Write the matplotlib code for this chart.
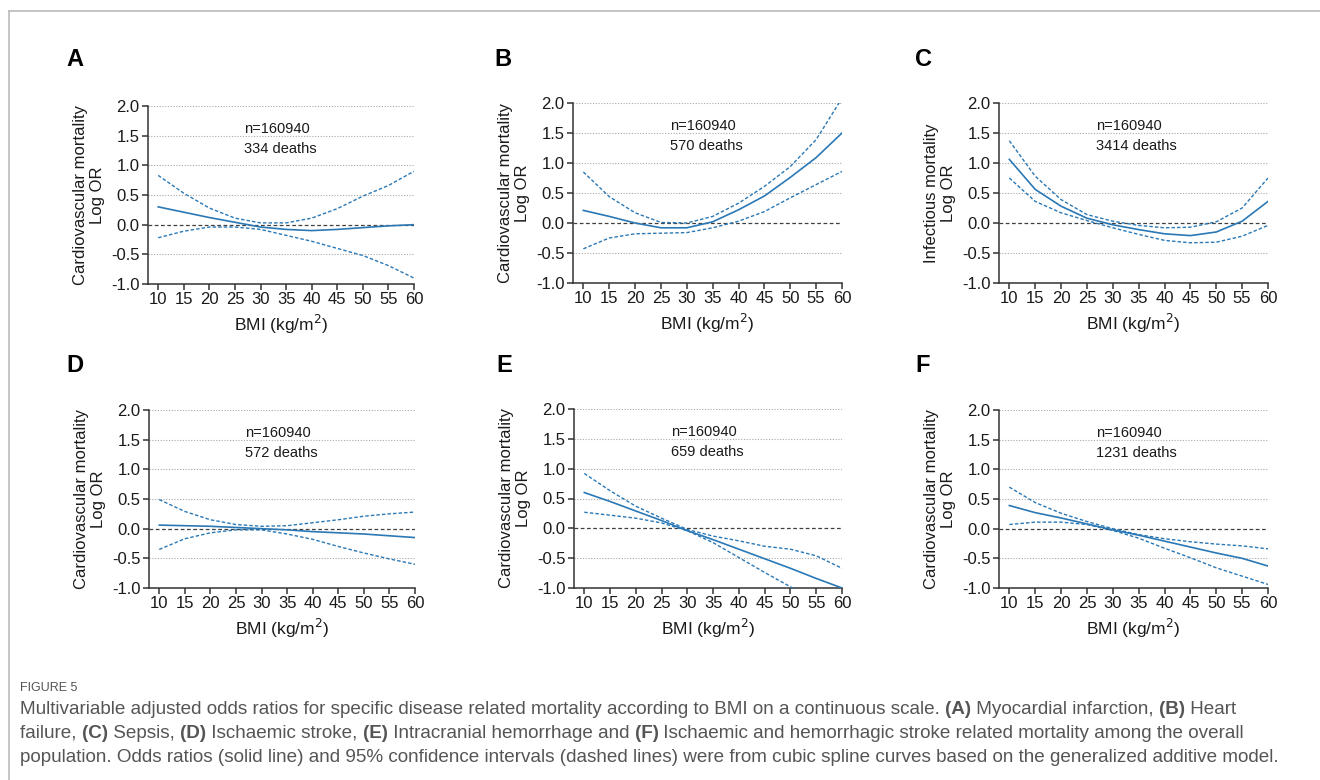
import matplotlib
matplotlib.use('Agg')
import matplotlib.pyplot as plt

plt.rcParams['font.family'] = ['Liberation Sans', 'DejaVu Sans']
plt.rcParams['axes.unicode_minus'] = False

bmi = [10, 15, 20, 25, 30, 35, 40, 45, 50, 55, 60]

# panel A - myocardial infarction
a_est = [0.30, 0.21, 0.12, 0.04, -0.04, -0.08, -0.10, -0.08, -0.05, -0.02, 0.00]
a_hi = [0.83, 0.53, 0.28, 0.11, 0.03, 0.03, 0.11, 0.27, 0.48, 0.66, 0.90]
a_lo = [-0.22, -0.11, -0.04, -0.04, -0.08, -0.18, -0.28, -0.40, -0.52, -0.69, -0.90]

# panel B - heart failure
b_est = [0.21, 0.11, 0.00, -0.08, -0.08, 0.02, 0.22, 0.45, 0.76, 1.09, 1.50]
b_hi = [0.85, 0.44, 0.17, 0.01, 0.00, 0.11, 0.33, 0.61, 0.94, 1.39, 2.08]
b_lo = [-0.43, -0.25, -0.18, -0.17, -0.16, -0.08, 0.03, 0.19, 0.42, 0.64, 0.86]

# panel C - sepsis
c_est = [1.06, 0.56, 0.28, 0.08, -0.03, -0.11, -0.18, -0.21, -0.15, 0.03, 0.36]
c_hi = [1.37, 0.78, 0.39, 0.14, 0.03, -0.04, -0.08, -0.07, 0.02, 0.25, 0.75]
c_lo = [0.75, 0.36, 0.17, 0.04, -0.08, -0.19, -0.29, -0.33, -0.32, -0.22, -0.04]

# panel D - ischaemic stroke
d_est = [0.06, 0.05, 0.04, 0.02, 0.00, -0.02, -0.05, -0.07, -0.09, -0.12, -0.15]
d_hi = [0.49, 0.29, 0.15, 0.07, 0.04, 0.05, 0.10, 0.15, 0.21, 0.25, 0.28]
d_lo = [-0.35, -0.17, -0.07, -0.02, -0.02, -0.09, -0.18, -0.30, -0.41, -0.51, -0.60]

# panel E - intracranial hemorrhage
e_est = [0.60, 0.45, 0.29, 0.13, -0.04, -0.19, -0.35, -0.51, -0.67, -0.84, -1.00]
e_hi = [0.92, 0.63, 0.37, 0.17, -0.02, -0.13, -0.21, -0.30, -0.35, -0.46, -0.67]
e_lo = [0.27, 0.22, 0.17, 0.09, -0.04, -0.24, -0.49, -0.74, -0.98, -1.25, -1.50]

# panel F - ischaemic and hemorrhagic stroke
f_est = [0.39, 0.27, 0.18, 0.08, -0.02, -0.11, -0.21, -0.31, -0.41, -0.50, -0.63]
f_hi = [0.70, 0.44, 0.26, 0.12, 0.00, -0.10, -0.17, -0.22, -0.26, -0.29, -0.34]
f_lo = [0.07, 0.11, 0.11, 0.07, -0.03, -0.16, -0.33, -0.49, -0.66, -0.80, -0.94]

letters = ['A', 'B', 'C', 'D', 'E', 'F']
deaths = ['334 deaths', '570 deaths', '3414 deaths', '572 deaths', '659 deaths', '1231 deaths']
ylabels = ['Cardiovascular mortality\nLog OR', 'Cardiovascular mortality\nLog OR',
           'Infectious mortality\nLog OR', 'Cardiovascular mortality\nLog OR',
           'Cardiovascular mortality\nLog OR', 'Cardiovascular mortality\nLog OR']
curves = [(a_est, a_lo, a_hi), (b_est, b_lo, b_hi), (c_est, c_lo, c_hi),
          (d_est, d_lo, d_hi), (e_est, e_lo, e_hi), (f_est, f_lo, f_hi)]
yticks = [-1.0, -0.5, 0.0, 0.5, 1.0, 1.5, 2.0]

W, H = 1320, 780
# axes boxes in pixels: left, right, top, bottom
boxes = [(148, 414, 106, 284), (573, 842, 103, 283), (999, 1268, 103, 283),
         (149, 415, 410, 588), (574, 842, 409, 588), (999, 1268, 410, 588)]
letter_pos = [(75, 66), (503, 66), (923, 66), (75, 372), (504, 372), (923, 372)]

blue = '#2a78b5'
axc = '#333333'
txtc = '#1a1a1a'

fig = plt.figure(figsize=(W / 100, H / 100), dpi=100)

for i in range(6):
    l, r, t, b = boxes[i]
    ax = fig.add_axes([l / W, 1 - b / H, (r - l) / W, (b - t) / H])
    est, lo, hi = curves[i]
    for g in [2.0, 1.5, 1.0, 0.5, -0.5]:
        ax.axhline(g, color='#a8a8a8', lw=0.8, ls=(0, (1, 1.5)), zorder=1)
    ax.axhline(0, color='#404040', lw=0.9, ls=(0, (3, 2)), zorder=1)
    ax.plot(bmi, est, color=blue, lw=1.2, zorder=3)
    ax.plot(bmi, hi, color=blue, lw=1.0, ls=(0, (2.5, 1.5)), zorder=3)
    ax.plot(bmi, lo, color=blue, lw=1.0, ls=(0, (2.5, 1.5)), zorder=3)
    ax.set_xlim(8, 60)
    ax.set_ylim(-1, 2)
    ax.set_xticks(bmi)
    ax.set_yticks(yticks)
    ax.set_yticklabels(['%.1f' % v for v in yticks])
    for s in ['top', 'right']:
        ax.spines[s].set_visible(False)
    for s in ['left', 'bottom']:
        ax.spines[s].set_color(axc)
        ax.spines[s].set_linewidth(1.1)
    ax.tick_params(length=4.5, width=1.1, color=axc, labelsize=12, labelcolor=txtc, pad=1.5)
    ax.set_xlabel('BMI (kg/m$^2$)', fontsize=12.5, color=txtc, labelpad=4)
    ax.set_ylabel(ylabels[i], fontsize=12, color=txtc, linespacing=1.2)
    ax.yaxis.set_label_coords(-43 / (r - l), 0.5)
    ax.text(0.362, 0.85, 'n=160940', transform=ax.transAxes, fontsize=10.5, color=txtc, va='baseline')
    ax.text(0.362, 0.738, deaths[i], transform=ax.transAxes, fontsize=10.5, color=txtc, va='baseline')
    lx, ly = letter_pos[i]
    fig.text(lx / W, 1 - ly / H, letters[i], fontsize=17, fontweight='bold', ha='center', va='baseline')

# frame lines at top and left
fig.add_artist(plt.Line2D([9 / W, 1], [1 - 11 / H, 1 - 11 / H], color='#bbbbbb', lw=1.2))
fig.add_artist(plt.Line2D([9 / W, 9 / W], [0, 1 - 11 / H], color='#bbbbbb', lw=1.2))

# caption
capc = '#555555'
fig.text(20 / W, 1 - 691 / H, 'FIGURE 5', fontsize=9, color=capc, va='baseline')

cap_lines = [
    [('Multivariable adjusted odds ratios for specific disease related mortality according to BMI on a continuous scale. ', False),
     ('(A)', True), (' Myocardial infarction, ', False), ('(B)', True), (' Heart', False)],
    [('failure, ', False), ('(C)', True), (' Sepsis, ', False), ('(D)', True), (' Ischaemic stroke, ', False),
     ('(E)', True), (' Intracranial hemorrhage and ', False), ('(F)', True),
     (' Ischaemic and hemorrhagic stroke related mortality among the overall', False)],
    [('population. Odds ratios (solid line) and 95% confidence intervals (dashed lines) were from cubic spline curves based on the generalized additive model.', False)],
]
cap_y = [714, 738, 762]

renderer = fig.canvas.get_renderer()
for line, yy in zip(cap_lines, cap_y):
    x = 20
    for txt, bold in line:
        t = fig.text(x / W, 1 - yy / H, txt, fontsize=13.6, color=capc,
                     fontweight='bold' if bold else 'normal', va='baseline')
        x += t.get_window_extent(renderer).width

fig.savefig('out.png', dpi=100)
